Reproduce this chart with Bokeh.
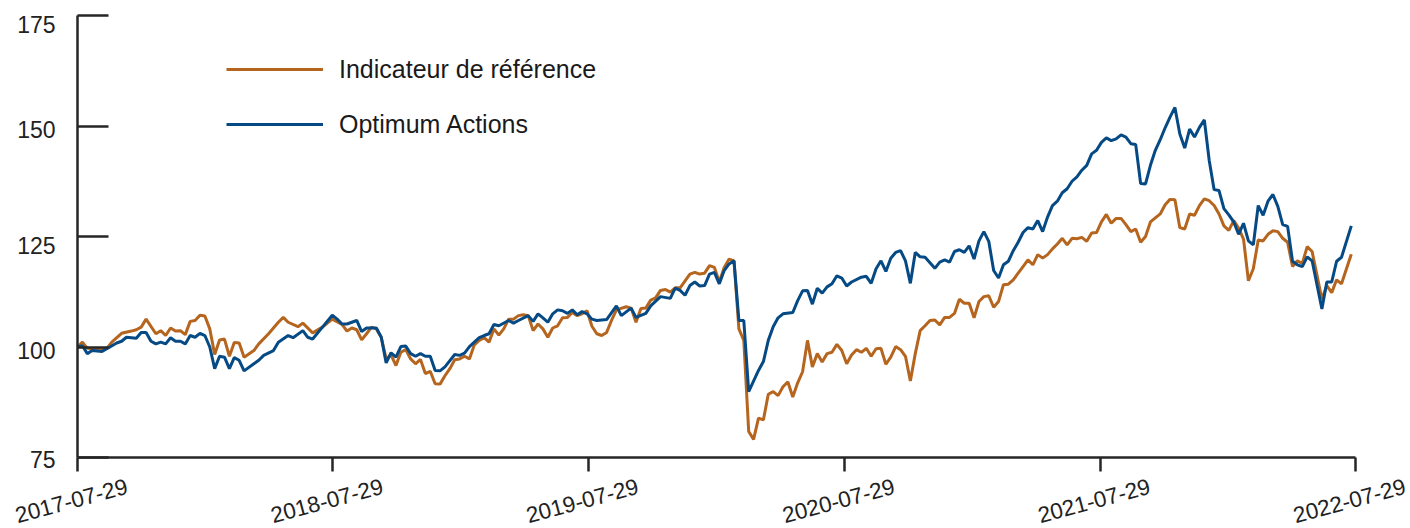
import numpy as np
import pandas as pd
from bokeh.plotting import figure
from bokeh.layouts import row, column
from bokeh.models import Range1d, FixedTicker, Legend, LegendItem, ColumnDataSource
from bokeh.core.properties import value
from bokeh.embed import file_html
from bokeh.resources import INLINE

# ---------------- data ----------------
start_date = "2017-07-29"
end_date = "2022-07-29"
tick_dates = ["2017-07-29", "2018-07-29", "2019-07-29", "2020-07-29", "2021-07-29", "2022-07-29"]
y_ticks = [75, 100, 125, 150, 175]
series_names = ["Indicateur de référence", "Optimum Actions"]

# weeks since 2017-07-29
ref_weeks = [0, 1, 2, 3, 5, 6, 7, 9, 11, 12, 13, 14, 16, 17, 18, 19, 20, 21, 22, 23, 24, 25, 26, 27, 28, 29, 30,
             31, 32, 33, 34, 36, 37, 39, 41, 42, 43, 45, 46, 48, 50, 52, 54, 55, 56, 57, 58, 59, 60, 61, 62, 63,
             64, 65, 66, 67, 68, 69, 70, 71, 72, 73, 74, 75, 76, 77, 78, 79, 80, 81, 82, 83, 84, 85, 86, 87, 88,
             89, 90, 91, 92, 93, 94, 95, 96, 97, 98, 99, 100, 101, 102, 103, 104, 105, 106, 107, 108, 109, 110,
             112, 113, 114, 115, 116, 117, 118, 119, 120, 121, 122, 123, 125, 126, 127, 128, 129, 130, 131, 132,
             133, 134, 135, 136, 137, 138, 139, 140, 141, 142, 143, 144, 145, 146, 147, 148, 149, 150, 151, 152,
             153, 154, 155, 156, 157, 158, 159, 160, 161, 162, 163, 164, 165, 166, 167, 168, 169, 170, 171, 172,
             173, 174, 175, 176, 177, 178, 179, 180, 181, 182, 183, 184, 185, 186, 187, 188, 189, 190, 191, 192,
             193, 194, 195, 196, 197, 198, 199, 200, 201, 202, 203, 204, 205, 206, 207, 208, 209, 210, 211, 212,
             213, 214, 215, 216, 217, 218, 219, 220, 221, 222, 223, 224, 225, 226, 227, 228, 229, 230, 231, 232,
             233, 234, 235, 236, 237, 238, 239, 240, 241, 242, 243, 244, 245, 246, 247, 248, 249, 250, 251, 252,
             253, 254, 255, 256, 257, 258, 260]
ref_values = [100.0, 101.1, 99.7, 99.6, 99.4, 99.7, 101.1, 103.1, 103.6, 103.9, 104.5, 106.3, 103.0, 103.7,
              102.6, 104.3, 103.6, 103.7, 102.8, 105.8, 106.0, 107.2, 107.0, 104.1, 98.3, 101.6, 101.8,
              97.9, 101.0, 100.9, 97.7, 99.2, 100.7, 103.0, 105.6, 106.7, 105.6, 104.6, 105.4, 103.2, 104.5, 106.3,
              105.1, 103.6, 104.3, 103.9, 101.6, 103.0, 104.5, 104.1, 102.2, 97.3,
              98.2, 95.8, 98.8, 99.4, 97.3, 96.2, 97.2, 94.0, 94.5, 91.7, 91.6, 93.5, 95.1, 97.1, 97.3, 97.9, 97.3,
              100.5, 101.5, 102.1, 101.1, 104.1, 102.7, 104.1, 106.3,
              106.3, 107.1, 107.3, 107.1, 103.7, 105.2, 104.1, 102.2, 104.3, 104.8, 106.6, 106.7, 107.8, 107.1,
              107.5, 108.2, 104.7, 103.0, 102.6, 103.3, 106.0, 108.4,
              109.1, 108.8, 105.6, 108.7, 108.8, 110.6, 111.1, 112.8, 113.0, 112.4, 113.4, 113.4, 116.5, 116.9,
              116.5, 116.7, 118.4, 118.0, 114.7, 118.0,
              119.9, 119.5, 104.1, 101.5, 80.9, 79.1, 83.9, 83.5, 89.3, 89.9, 89.0, 91.0, 92.1, 88.7, 91.9, 94.4,
              101.5, 95.5, 98.5, 96.6,
              98.5, 98.8, 100.6, 99.2, 96.2, 98.2, 99.4, 98.8, 99.7, 97.9, 99.6, 99.7, 96.1, 97.7, 100.1, 99.4,
              97.9, 92.3, 98.5, 103.7,
              104.8, 106.0, 106.1, 105.0, 106.7, 106.7, 107.6, 110.8, 109.9, 109.9, 106.6, 110.3, 111.4, 111.6,
              109.0, 110.3, 114.1, 114.2, 115.2, 116.7,
              118.2, 119.7, 118.6, 120.9, 120.1, 120.9, 122.2, 123.3, 124.6, 123.1, 124.6, 124.5, 124.8, 123.9,
              125.8, 125.9, 128.3, 130.0, 128.0, 129.1,
              129.1, 127.7, 126.1, 126.7, 123.7, 125.0, 128.3, 129.2, 130.1, 132.2, 133.4, 133.3, 127.0, 126.7,
              130.1, 129.8, 132.0, 133.5, 133.1, 132.0,
              130.1, 127.4, 126.4, 128.6, 126.9, 124.4, 115.0, 117.7, 124.2, 124.0, 125.5, 126.3, 126.1, 124.6,
              123.7, 118.2, 119.5, 118.9, 122.7, 121.6,
              116.2, 110.8, 113.9, 112.3, 115.2, 114.3, 121.0]

fund_weeks = [0, 1, 2, 3, 5, 6, 8, 9, 10, 12, 13, 14, 15, 16, 17, 18, 19, 20, 21, 22, 23, 24, 25, 26, 27, 28,
              29, 30, 31, 32, 33, 34, 36, 37, 38, 40, 41, 43, 44, 46, 47, 48, 50, 52, 53, 54, 55, 57, 58, 59, 61,
              62, 63, 64, 65, 66, 67, 68, 69, 70, 71, 72, 73, 74, 75, 77, 78, 79, 80, 82, 83, 84, 85, 86, 88, 89,
              90, 92, 93, 94, 95, 96, 97, 98, 99, 100, 101, 102, 103, 104, 105, 106, 108, 110, 111, 113, 114, 116,
              117, 119, 121, 122, 123, 124, 125, 126, 127, 128, 129, 130, 131, 132, 133, 134, 135, 136, 137, 139,
              140, 141, 142, 143, 144, 146, 147, 148, 149, 150, 151, 152, 153, 154, 155, 156, 157, 158, 160, 161,
              162, 163, 164, 165, 166, 167, 168, 169, 170, 171, 172, 173, 175, 176, 177, 178, 179, 180, 181, 182,
              183, 184, 185, 186, 187, 188, 189, 190, 191, 192, 193, 194, 195, 196, 197, 198, 199, 200, 201, 202,
              203, 204, 205, 206, 207, 208, 209, 210, 211, 212, 213, 214, 215, 216, 217, 218, 219, 220, 221, 222,
              223, 224, 225, 226, 227, 228, 229, 230, 231, 232, 233, 234, 235, 236, 237, 238, 239, 240, 241, 242,
              243, 244, 245, 246, 247, 248, 249, 250, 251, 252, 254, 255, 256, 257, 258, 260]
fund_values = [100.0, 100.3, 98.5, 99.2, 99.0, 99.6, 100.9, 101.3, 102.2, 102.0, 103.3, 103.3, 101.3, 100.7,
               101.1, 100.7, 102.1, 101.3, 101.3, 100.7, 102.6, 102.2, 103.1, 102.6, 100.0, 95.1,
               97.9, 97.7, 95.1, 97.6, 97.0, 94.6, 96.2, 97.0, 98.1, 99.2, 101.1, 102.6, 102.1, 103.7, 102.2, 101.8,
               104.5, 107.2, 106.3, 105.2, 105.2, 106.0, 103.5, 104.3, 104.3,
               102.2, 96.4, 98.7, 97.7, 100.1, 100.2, 98.5, 97.9, 98.5, 97.9, 97.9, 94.7, 94.6, 95.5, 98.3, 98.1,
               98.6, 100.1, 102.1, 102.6, 103.0, 105.1, 104.8, 106.0, 105.4,
               106.0, 107.1, 105.8, 107.5, 106.6, 105.6, 107.5, 108.4, 108.2, 107.6, 108.4, 107.3, 108.0, 107.5,
               106.3, 106.0, 106.2, 109.3, 107.1, 108.8, 106.7, 107.6,
               109.3, 111.4, 111.0, 113.3, 112.8, 111.7, 113.9, 114.7, 113.8, 113.9, 116.5, 116.9, 114.3, 117.3,
               118.8, 119.5, 106.0, 106.0, 89.9, 94.7,
               96.7, 101.5, 104.6, 106.6, 107.5, 107.8, 110.5, 112.7, 112.8, 109.7, 113.3, 112.2, 113.6, 114.3,
               116.1, 115.6, 113.8, 114.7, 115.8, 116.0,
               114.4, 117.7, 119.5, 117.1, 120.1, 121.4, 121.8, 119.5, 114.4, 121.4, 120.4, 120.3, 117.8, 119.2,
               119.7, 119.2, 121.6, 122.0, 121.4, 122.9,
               119.9, 124.0, 126.1, 123.9, 117.3, 115.6, 118.6, 119.4, 121.8, 123.7, 125.9, 127.0, 126.7, 128.6,
               126.1, 129.4, 132.0, 133.0, 134.9, 135.8,
               137.5, 138.5, 140.0, 141.1, 143.7, 144.5, 146.3, 147.3, 146.7, 147.1, 148.0, 147.5, 146.0, 145.8,
               137.0, 136.9, 141.1, 144.5, 146.9, 149.6,
               152.0, 154.2, 148.2, 145.0, 149.3, 147.5, 149.7, 151.4, 142.2, 135.6, 135.4, 131.3, 129.9, 128.3,
               125.5, 128.0, 124.0, 123.1, 132.0, 129.8,
               133.0, 134.5, 131.8, 127.7, 127.3, 119.4, 118.6, 118.2, 120.4, 119.5, 108.6, 114.7, 114.7, 119.4,
               120.3, 127.4]

# ---------------- styles / layout ----------------
FONT = "Liberation Sans"
ORANGE = "#B5651E"
BLUE = "#054A85"
AXIS = "#262626"
TEXT = "#222222"

W, H = 1410, 528
H_TOP = 472          # main chart row height
H_BOT = H - H_TOP    # x tick label strip
LEFT_W = 75          # y tick label strip
FRAME_L, FRAME_R, FRAME_T = 2, 55, 15
FRAME_B = H_TOP - 457   # main frame bottom sits at y = 457
y_label_dy = [2, 3, 9, 3, 9]   # small downward nudges of the y tick labels (px)

start = pd.Timestamp(start_date)
end = pd.Timestamp(end_date)

ref_dates = start + pd.to_timedelta(np.array(ref_weeks) * 7, unit="D")
fund_dates = start + pd.to_timedelta(np.array(fund_weeks) * 7, unit="D")
src_ref = ColumnDataSource(dict(x=ref_dates, y=ref_values))
src_fund = ColumnDataSource(dict(x=fund_dates, y=fund_values))

# ---- main chart ----
main_w = W - LEFT_W
p = figure(width=main_w, height=H_TOP, x_axis_type="datetime", output_backend="svg",
           toolbar_location=None, x_range=Range1d(start, end), y_range=Range1d(75, 175))
p.frame_align = False
p.min_border_left = FRAME_L
p.min_border_right = FRAME_R
p.min_border_top = FRAME_T
p.min_border_bottom = FRAME_B
p.outline_line_color = None
p.grid.visible = False
p.background_fill_color = "white"
p.border_fill_color = "white"

tick_ms = [pd.Timestamp(d).value // 10**6 for d in tick_dates]
p.xaxis.ticker = FixedTicker(ticks=tick_ms)
p.yaxis.ticker = FixedTicker(ticks=y_ticks)
for ax in (p.xaxis, p.yaxis):
    ax.axis_line_color = AXIS
    ax.axis_line_width = 2.5
    ax.major_tick_line_color = AXIS
    ax.major_tick_line_width = 2.5
    ax.minor_tick_line_color = None
    ax.major_label_text_color = None
    ax.major_label_text_font_size = "0px"
    ax.major_label_standoff = 0
p.xaxis.major_tick_out = 14
p.xaxis.major_tick_in = 0
p.yaxis.major_tick_in = 31
p.yaxis.major_tick_out = 0

r_ref = p.line("x", "y", source=src_ref, line_color=ORANGE, line_width=3)
r_fund = p.line("x", "y", source=src_fund, line_color=BLUE, line_width=3)

legend = Legend(items=[LegendItem(label=series_names[0], renderers=[r_ref]),
                       LegendItem(label=series_names[1], renderers=[r_fund])],
                location=(149, 318), glyph_width=97, glyph_height=30, label_height=30,
                label_standoff=16, spacing=25, padding=0, margin=0,
                border_line_color=None, background_fill_alpha=0,
                label_text_font=FONT, label_text_font_size="25px", label_text_color="#1a1a1a")
p.add_layout(legend)

# ---- y tick labels strip (same vertical scale as the main frame) ----
frame_h = H_TOP - FRAME_T - FRAME_B
px_per_unit = frame_h / (175 - 75)
pl = figure(width=LEFT_W, height=H_TOP, output_backend="svg", toolbar_location=None,
            x_axis_location=None, y_axis_location=None,
            x_range=Range1d(0, LEFT_W),
            y_range=Range1d(75 - FRAME_B / px_per_unit, 175 + FRAME_T / px_per_unit))
pl.frame_align = False
pl.min_border = 0
pl.min_border_left = pl.min_border_right = pl.min_border_top = pl.min_border_bottom = 0
pl.outline_line_color = None
pl.grid.visible = False
ysrc = ColumnDataSource(dict(x=[55] * len(y_ticks), y=y_ticks, t=[str(v) for v in y_ticks], dy=y_label_dy))
pl.text("x", "y", text="t", source=ysrc, text_align="right", text_baseline="middle", y_offset="dy",
        text_font=value(FONT), text_font_size=value("23px"), text_color=TEXT)

# ---- x tick labels strip (same horizontal scale as the main frame) ----
days_per_px = (end - start) / (main_w - FRAME_L - FRAME_R)
frame_x0 = LEFT_W + FRAME_L
pb = figure(width=W, height=H_BOT, x_axis_type="datetime", output_backend="svg", toolbar_location=None,
            x_axis_location=None, y_axis_location=None,
            x_range=Range1d(start - frame_x0 * days_per_px, start + (W - frame_x0) * days_per_px),
            y_range=Range1d(0, H_BOT))
pb.frame_align = False
pb.min_border = 0
pb.min_border_left = pb.min_border_right = pb.min_border_top = pb.min_border_bottom = 0
pb.outline_line_color = None
pb.grid.visible = False
xsrc = ColumnDataSource(dict(x=[pd.Timestamp(d) for d in tick_dates], y=[27.5] * len(tick_dates), t=tick_dates))
pb.text("x", "y", text="t", source=xsrc, angle=15, angle_units="deg", text_align="center",
        text_baseline="middle", x_offset=-6,
        text_font=value(FONT), text_font_size=value("22.5px"), text_color=TEXT)

layout = column(row(pl, p, spacing=0), pb, spacing=0)
open("out.html", "w").write(file_html(layout, INLINE))
